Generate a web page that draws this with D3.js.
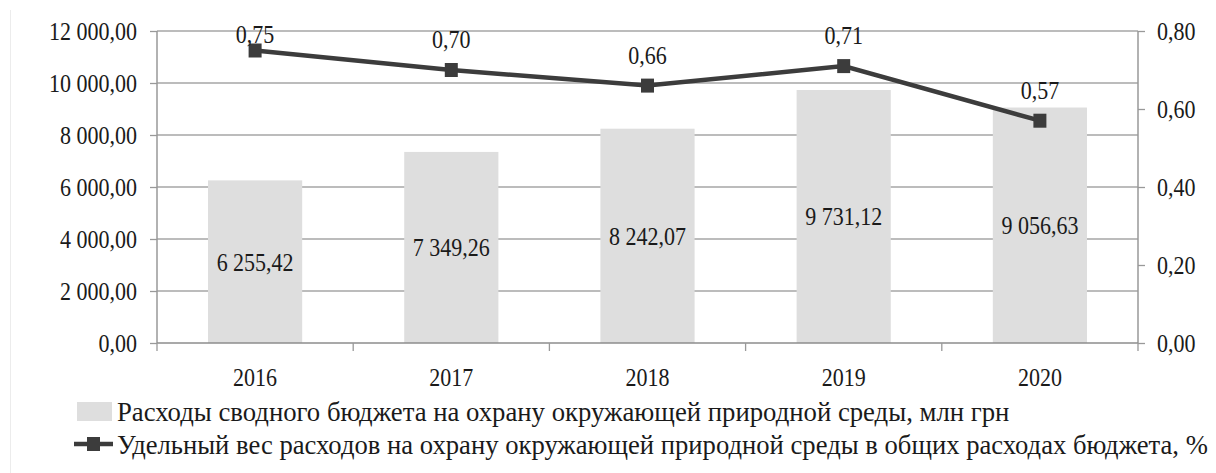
<!DOCTYPE html>
<html>
<head>
<meta charset="utf-8">
<script src="https://cdn.jsdelivr.net/npm/d3@7"></script>
<style>
  body { margin: 0; background: #fff; }
</style>
</head>
<body>
<div id="chart"></div>
<script>
const years = ["2016", "2017", "2018", "2019", "2020"];
const spending = [6255.42, 7349.26, 8242.07, 9731.12, 9056.63];
const share = [0.75, 0.70, 0.66, 0.71, 0.57];
const leftTicks = [0, 2000, 4000, 6000, 8000, 10000, 12000];
const rightTicks = [0, 0.2, 0.4, 0.6, 0.8];
const legendLabels = [
  "Расходы сводного бюджета на охрану окружающей природной среды, млн грн",
  "Удельный вес расходов на охрану окружающей природной среды в общих расходах бюджета, %"
];
const legendWidths = [893, 1091];

const FONT = "'Liberation Serif', 'Times New Roman', Tinos, 'DejaVu Serif', 'Noto Serif', serif";

const W = 1216, H = 473;
const margin = {top: 31, right: 78, bottom: 130, left: 157},
    width = W - margin.left - margin.right,
    height = H - margin.top - margin.bottom;

const sx = 0.88; // glyphs in the picture are a bit narrow
const loc = d3.formatLocale({decimal: ",", thousands: " ", grouping: [3], currency: ["", ""]});
const fmt = loc.format(",.2f");

const x = d3.scaleBand().domain(years).range([0, width]).paddingInner(0);
const y = d3.scaleLinear().domain([0, 12000]).range([height, 0]);
const y2 = d3.scaleLinear().domain([0, 0.8]).range([height, 0]);

const svg = d3.select("#chart").append("svg")
    .attr("width", W).attr("height", H)
    .attr("font-family", FONT);

svg.append("rect").attr("width", W).attr("height", H).attr("fill", "#fff");
svg.append("line")
    .attr("x1", 10.5).attr("x2", 10.5).attr("y1", 10).attr("y2", H)
    .style("stroke", "#ececec");

const g = svg.append("g").attr("transform", "translate(" + margin.left + "," + margin.top + ")");

function squeeze(sel) {
  sel.attr("font-family", null);
  sel.selectAll(".tick text")
    .style("font-family", FONT)
    .style("fill", "#1a1a1a")
    .attr("font-size", 25)
    .attr("transform", "scale(" + sx + ",1)")
    .attr("x", function() { return +this.getAttribute("x") / sx; });
}

// gridlines
g.append("g")
  .selectAll("line")
  .data(leftTicks.slice(1))
  .join("line")
    .attr("x1", 0).attr("x2", width)
    .attr("y1", d => y(d)).attr("y2", d => y(d))
    .style("stroke", "#a6a6a6").style("stroke-width", 1.4);

// bars
const bw = x.bandwidth() * 0.48;
g.append("g")
  .selectAll("rect")
  .data(spending)
  .join("rect")
    .attr("x", (d, i) => x(years[i]) + (x.bandwidth() - bw) / 2)
    .attr("y", d => y(d))
    .attr("width", bw)
    .attr("height", d => height - y(d))
    .attr("fill", "#dedede");

// left axis
const ax = g.append("g")
    .call(d3.axisLeft(y).tickValues(leftTicks).tickSize(7).tickPadding(13).tickFormat(fmt));
ax.select(".domain").remove();
ax.selectAll(".tick line").style("stroke", "#999").style("stroke-width", 1.3);
squeeze(ax);
g.append("line").attr("x1", 0).attr("x2", 0).attr("y1", 0).attr("y2", height)
    .style("stroke", "#999").style("stroke-width", 1.5);

// right axis
const ar = g.append("g")
    .attr("transform", "translate(" + width + ",0)")
    .call(d3.axisRight(y2).tickValues(rightTicks).tickSize(7).tickPadding(12).tickFormat(fmt));
ar.select(".domain").remove();
ar.selectAll(".tick line").style("stroke", "#999").style("stroke-width", 1.3);
squeeze(ar);
g.append("line").attr("x1", width).attr("x2", width).attr("y1", 0).attr("y2", height)
    .style("stroke", "#999").style("stroke-width", 1.5);

// bottom axis
const ab = g.append("g")
    .attr("transform", "translate(0," + height + ")")
    .call(d3.axisBottom(x).tickSize(0).tickPadding(25));
ab.select(".domain").remove();
squeeze(ab);
g.append("line").attr("x1", 0).attr("x2", width).attr("y1", height).attr("y2", height)
    .style("stroke", "#8c8c8c").style("stroke-width", 1.6);
g.append("g")
  .selectAll("line")
  .data(years.map(d => x(d)).concat([x.range()[1]]))
  .join("line")
    .attr("x1", d => d).attr("x2", d => d)
    .attr("y1", height).attr("y2", height + 8)
    .style("stroke", "#999").style("stroke-width", 1.3);

// bar value labels
g.append("g")
  .selectAll("text")
  .data(spending)
  .join("text")
    .attr("transform", (d, i) => "translate(" + (x(years[i]) + x.bandwidth() / 2) + "," + ((y(d) + height) / 2 + 9) + ") scale(" + sx + ",1)")
    .attr("text-anchor", "middle")
    .attr("font-size", 25)
    .style("font-family", FONT)
    .style("fill", "#1a1a1a")
    .text(d => fmt(d));

// line series
const cx = d => x(d) + x.bandwidth() / 2;
const line = d3.line()
    .x((d, i) => cx(years[i]))
    .y(d => y2(d));

g.append("path")
    .datum(share)
    .attr("d", line)
    .attr("fill", "none")
    .style("stroke", "#3c3c3c")
    .style("stroke-width", 4.5);

g.append("g")
  .selectAll("rect")
  .data(share)
  .join("rect")
    .attr("x", (d, i) => cx(years[i]) - 6.5)
    .attr("y", d => y2(d) - 7)
    .attr("width", 13)
    .attr("height", 14)
    .attr("fill", "#3c3c3c");

g.append("g")
  .selectAll("text")
  .data(share)
  .join("text")
    .attr("transform", (d, i) => "translate(" + cx(years[i]) + "," + (Math.max(y2(d) - 31, 3) + 9) + ") scale(" + sx + ",1)")
    .attr("text-anchor", "middle")
    .attr("font-size", 25)
    .style("font-family", FONT)
    .style("fill", "#1a1a1a")
    .text(d => fmt(d));

// legend
const lg = svg.append("g");
lg.append("rect")
    .attr("x", 77).attr("y", 402).attr("width", 35).attr("height", 19)
    .attr("fill", "#dedede");
lg.append("line")
    .attr("x1", 74).attr("x2", 113).attr("y1", 444).attr("y2", 444)
    .style("stroke", "#3c3c3c").style("stroke-width", 4.5);
lg.append("rect")
    .attr("x", 87).attr("y", 437).attr("width", 13).attr("height", 14)
    .attr("fill", "#3c3c3c");

// legend text is squeezed horizontally to the width it has in the picture
lg.selectAll("text")
  .data(legendLabels)
  .join("text")
    .attr("font-size", 28)
    .style("font-family", FONT)
    .style("fill", "#1a1a1a")
    .text(d => d)
    .attr("transform", function(d, i) {
      const k = legendWidths[i] / this.getComputedTextLength();
      return "translate(117," + (421 + i * 33) + ") scale(" + k + ",1)";
    });
</script>
</body>
</html>
